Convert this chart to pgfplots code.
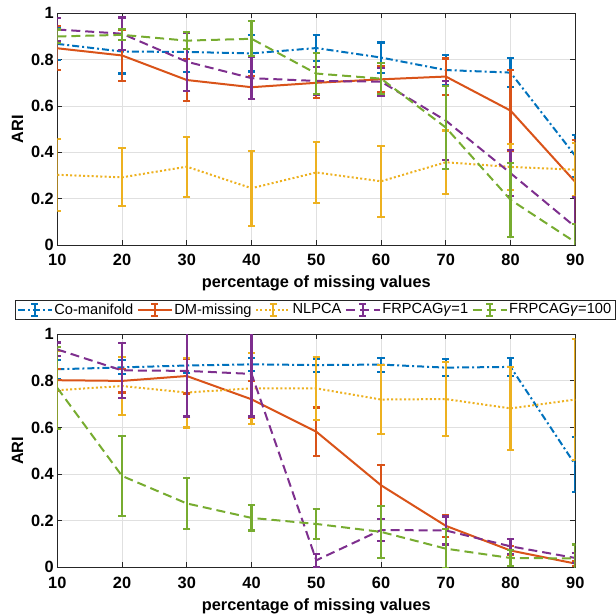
\documentclass[border=0pt]{standalone}
\usepackage{fontspec}
\setmainfont{Liberation Sans}
\usepackage{pgfplots}
\usepackage{pgfplotstable}
\pgfplotsset{compat=1.18}
\definecolor{cA}{rgb}{0,0.447,0.741}
\definecolor{cB}{rgb}{0.85,0.325,0.098}
\definecolor{cC}{rgb}{0.929,0.694,0.125}
\definecolor{cD}{rgb}{0.494,0.184,0.556}
\definecolor{cE}{rgb}{0.466,0.674,0.188}
\newcommand{\ticfont}{\bfseries\fontsize{16.4}{18}\selectfont}
\newcommand{\legfont}{\fontsize{14.7}{16}\selectfont}

\pgfplotstableread{
x  co    coe   dm    dme   nl    nle   fa    fae   fb    fbe
10 0.868 0.070 0.849 0.095 0.303 0.155 0.930 0.048 0.900 0.030
20 0.835 0.095 0.818 0.110 0.292 0.125 0.912 0.070 0.907 0.024
30 0.833 0.085 0.712 0.090 0.338 0.130 0.791 0.125 0.882 0.038
40 0.827 0.078 0.681 0.050 0.245 0.162 0.720 0.090 0.890 0.076
50 0.850 0.056 0.700 0.067 0.313 0.132 0.708 0.060 0.740 0.090
60 0.809 0.065 0.715 0.057 0.275 0.153 0.705 0.060 0.718 0.067
70 0.755 0.065 0.727 0.078 0.357 0.137 0.537 0.170 0.507 0.180
80 0.744 0.063 0.580 0.175 0.337 0.100 0.310 0.100 0.195 0.160
90 0.385 0.090 0.272 0.180 0.325 0.115 0.078 0.130 0.012 0.080
}\topdata

\pgfplotstableread{
x  co    coe   dm    dme   nl    nle   fa    fae   fb    fbe
10 0.850 0.040 0.803 0.047 0.760 0.168 0.935 0.030 0.770 0.177
20 0.858 0.030 0.800 0.050 0.778 0.125 0.845 0.117 0.392 0.170
30 0.866 0.032 0.821 0.075 0.750 0.150 0.843 0.196 0.274 0.108
40 0.871 0.028 0.721 0.078 0.768 0.152 0.830 0.183 0.212 0.054
50 0.868 0.028 0.582 0.104 0.768 0.136 0.030 0.028 0.186 0.066
60 0.870 0.030 0.352 0.087 0.720 0.148 0.160 0.047 0.152 0.113
70 0.857 0.036 0.178 0.048 0.722 0.160 0.158 0.060 0.080 0.085
80 0.860 0.040 0.072 0.020 0.682 0.177 0.090 0.032 0.040 0.035
90 0.440 0.118 0.016 0.010 0.720 0.260 0.040 0.020 0.038 0.060
}\botdata

\pgfplotsset{
  myaxis/.style={
    scale only axis, width=518bp,
    xmin=10, xmax=90, ymin=0, ymax=1,
    xtick={10,20,30,40,50,60,70,80,90},
    ytick={0,0.2,0.4,0.6,0.8,1},
    no markers,
    grid=major, major grid style={color=black!12, line width=0.8bp},
    axis line style={black!85, line width=0.9bp},
    tick style={black!85, line width=0.9bp}, major tick length=5bp,
    /pgf/number format/assume math mode=true,
    yticklabel style={font=\ticfont, inner sep=0pt, xshift=-3.3bp, anchor=east},
    xticklabel style={font=\ticfont, inner sep=0pt, anchor=base, yshift=-20.7bp},
    xlabel={percentage of missing values}, ylabel={ARI},
    label style={font=\ticfont},
    xlabel style={at={(axis description cs:0.5,0)}, anchor=base, yshift=-43bp, inner sep=0pt},
    ylabel style={at={(axis description cs:-0.0656,0.5)}, anchor=south, inner sep=0pt},
  },
  limg/.style={
    legend image code/.code={
      \draw[##1, line width=2bp] (0bp,0bp) -- (34bp,0bp);
      \draw[##1, solid, line width=2bp] (17bp,-6bp) -- (17bp,6bp);
      \draw[##1, solid, line width=2bp] (13.5bp,-6bp) -- (20.5bp,-6bp) (13.5bp,6bp) -- (20.5bp,6bp);
    },
  },
  ebar/.style={
    error bars/y dir=both, error bars/y explicit,
    error bars/error bar style={solid, /tikz/line width=2.1bp},
    error bars/error mark options={solid, rotate=90, /tikz/line width=2.1bp, mark size=3.6bp},
  },
  sA/.style={cA, line width=2bp, dash pattern=on 7bp off 3bp on 2bp off 3bp},
  sB/.style={cB, line width=2bp, solid},
  sC/.style={cC, line width=2bp, dash pattern=on 2bp off 2.3bp},
  sD/.style={cD, line width=2bp, dash pattern=on 9bp off 5bp},
  sE/.style={cE, line width=2bp, dash pattern=on 9bp off 5bp},
}

\begin{document}
\begin{tikzpicture}
\begin{axis}[myaxis, height=231.7bp, at={(0bp,322.3bp)}]
\addplot[sA, ebar] table[x=x, y=co, y error=coe] {\topdata};
\addplot[sB, ebar] table[x=x, y=dm, y error=dme] {\topdata};
\addplot[sC, ebar] table[x=x, y=nl, y error=nle] {\topdata};
\addplot[sD, ebar] table[x=x, y=fa, y error=fae] {\topdata};
\addplot[sE, ebar] table[x=x, y=fb, y error=fbe] {\topdata};
\end{axis}
\begin{axis}[myaxis, height=233bp, at={(0bp,0bp)},
  legend columns=5, legend cell align=left,
  legend style={at={(axis description cs:0.5,1)}, anchor=south, yshift=15bp, xshift=-1.5bp,
    draw=black!85, font=\legfont, inner sep=2bp,
    nodes={inner sep=1.5bp},
    /tikz/every even column/.append style={column sep=2bp}},
  legend entries={Co-manifold, DM-missing, NLPCA, FRPCAG\textit{γ}=1, FRPCAG\textit{γ}=100}]
\addplot[sA, ebar, limg] table[x=x, y=co, y error=coe] {\botdata};
\addplot[sB, ebar, limg] table[x=x, y=dm, y error=dme] {\botdata};
\addplot[sC, ebar, limg] table[x=x, y=nl, y error=nle] {\botdata};
\addplot[sD, ebar, limg] table[x=x, y=fa, y error=fae] {\botdata};
\addplot[sE, ebar, limg] table[x=x, y=fb, y error=fbe] {\botdata};
\end{axis}
\pgfresetboundingbox
\useasboundingbox (-57.3bp,-46.7bp) rectangle (558.7bp,567.3bp);
\end{tikzpicture}
\end{document}
